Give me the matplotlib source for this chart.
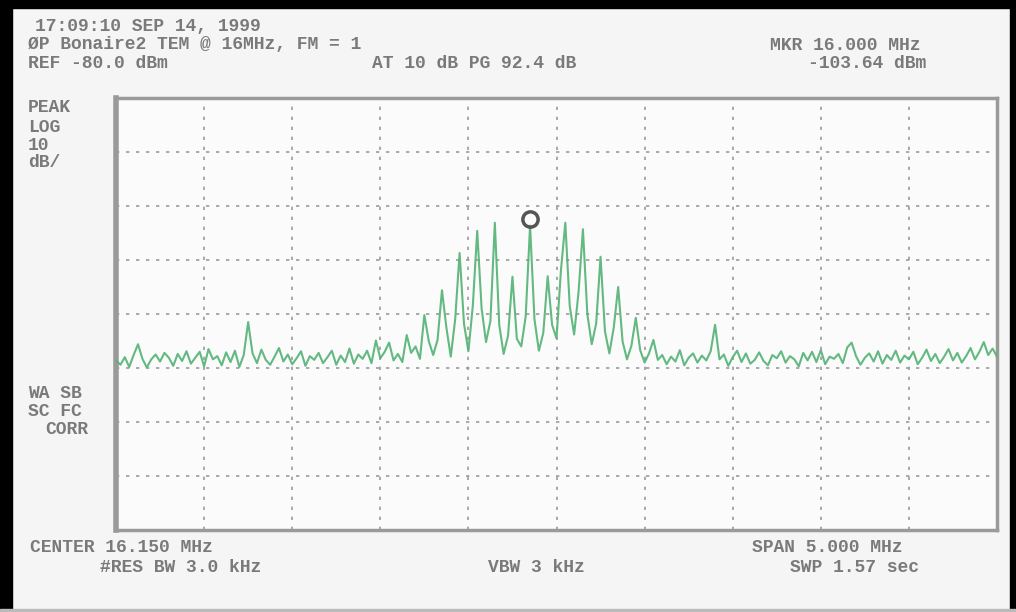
import numpy as np
import matplotlib.pyplot as plt
from matplotlib.patches import Rectangle
from matplotlib.transforms import offset_copy

CENTER_MHZ = 16.150
SPAN_MHZ = 5.0
REF_DBM = -80.0
DB_PER_DIV = 10
STEP_MHZ = 0.025

# trace level, one reading per 25 kHz from 13.65 to 18.65 MHz
trace_dbm = [
    -128.6, -129.4, -128.0, -129.8, -127.6, -125.6, -128.3, -129.9, -128.4, -127.5,
    -128.8, -127.2, -128.1, -129.6, -127.4, -128.7, -126.9, -129.2, -128.1, -127.0,
    -129.7, -126.5, -128.4, -127.8, -129.5, -127.1, -128.9, -126.8, -129.8, -127.6,
    -121.5,
    -127.3, -129.1, -126.6, -128.5, -129.4, -127.9, -126.3, -128.8, -127.5, -129.3,
    -128.2, -126.9, -129.6, -127.8, -128.5, -127.2, -129.1, -128.0, -126.8, -129.4,
    -127.7, -128.9, -126.4, -129.2, -127.5, -128.3, -126.8, -129.1, -124.9, -128.2,
    -127.0, -125.3, -128.6, -127.4, -128.9,
    -123.9, -127.2, -126.0, -128.3,
    -120.2, -125.0, -127.6, -124.8,
    -115.6, -122.5, -127.9, -121.0,
    -108.7, -121.8, -126.9, -118.5,
    -104.6, -119.0, -125.2, -121.3,
    -103.1, -122.0, -127.4, -124.0,
    -113.1, -124.6, -126.0, -120.5,
    -103.64, -121.0, -126.8, -123.5,
    -113.0, -122.0, -124.5, -112.0,
    -103.1, -118.5, -123.8, -116.0,
    -104.3, -120.0, -125.6, -121.8,
    -109.4, -123.2, -127.3, -122.5,
    -115.0, -125.1, -128.4, -125.9,
    -120.7, -126.7, -129.0, -127.3,
    -124.8, -128.5,
    -127.6, -129.3, -127.9, -128.8, -126.7, -129.5, -128.1, -127.3, -129.0, -127.7,
    -128.6, -126.9,
    -122.0,
    -128.4, -127.5, -129.6, -128.0, -126.8, -128.9, -127.3, -129.2, -128.5, -127.1,
    -128.7, -129.5, -127.6, -128.2, -126.9, -129.0, -127.8, -128.4, -129.7, -127.2,
    -128.6, -127.0, -128.9, -126.7, -129.3, -127.9, -128.3, -127.4, -129.1, -126.2,
    -125.3, -127.8, -129.4, -128.1, -127.3, -128.8, -126.9, -129.2, -127.6, -128.5,
    -126.8, -129.0, -127.7, -128.4, -127.0, -129.3, -128.1, -126.6, -128.7, -127.4,
    -129.1, -127.9, -126.5, -128.6, -127.2, -129.0, -127.8, -126.3, -128.4, -127.0,
    -125.2, -127.6, -126.4, -127.9,
]

MARKER_MHZ = 16.000
MARKER_DBM = -103.64

start = CENTER_MHZ - SPAN_MHZ / 2
stop = CENTER_MHZ + SPAN_MHZ / 2
freq = start + STEP_MHZ * np.arange(len(trace_dbm))

fig = plt.figure(figsize=(10.16, 6.12), dpi=100, facecolor="#f5f5f5")
ax = fig.add_axes([116 / 1016, 1 - 530 / 612, 881 / 1016, 432 / 612])
ax.set_facecolor("#fbfbfb")

ax.plot(freq, trace_dbm, color="#52b274", lw=1.5, alpha=0.9, zorder=3)
ax.plot([MARKER_MHZ], [MARKER_DBM], "o", ms=11, mfc="none", mec="#555555", mew=2.5,
        transform=offset_copy(ax.transData, fig=fig, y=7, units="dots"), zorder=4)

ax.set_xlim(start, stop)
ax.set_ylim(REF_DBM - 8 * DB_PER_DIV, REF_DBM)
ax.set_xticks(start + SPAN_MHZ / 10 * np.arange(11))
ax.set_yticks(REF_DBM - DB_PER_DIV * np.arange(9))
ax.tick_params(length=0, labelbottom=False, labelleft=False)
ax.grid(True, color="#9c9c9c", lw=1.2, linestyle=(0, (2, 4)))
for sp in ax.spines.values():
    sp.set_color("#9a9a9a")
    sp.set_linewidth(2.5)
ax.spines["left"].set_linewidth(4)

# scanner frame
fig.add_artist(Rectangle((0, 1 - 8 / 612), 1, 8 / 612, transform=fig.transFigure, color="black"))
fig.add_artist(Rectangle((0, 0), 12 / 1016, 1, transform=fig.transFigure, color="black"))
fig.add_artist(Rectangle((1 - 6 / 1016, 0), 6 / 1016, 1, transform=fig.transFigure, color="black"))
fig.add_artist(Rectangle((0, 0), 1, 3 / 612, transform=fig.transFigure, color="#bbbbbb"))

txt = dict(family="Liberation Mono", weight="bold", color="#7a7a7a", fontsize=13,
           va="center", ha="left", zorder=5)


def put(x, y, s):
    fig.text(x / 1016, 1 - y / 612, s, **txt)


put(35, 27, "17:09:10 SEP 14, 1999")
put(28, 45, "ØP Bonaire2 TEM @ 16MHz, FM = 1")
put(28, 63, "REF -80.0 dBm")
put(372, 63, "AT 10 dB PG 92.4 dB")
put(770, 45, "MKR 16.000 MHz")
put(808, 63, "-103.64 dBm")
put(28, 108, "PEAK")
put(28, 127, "LOG")
put(28, 145, "10")
put(28, 163, "dB/")
put(28, 393, "WA SB")
put(28, 411, "SC FC")
put(45, 429, "CORR")
put(30, 547, "CENTER 16.150 MHz")
put(100, 567, "#RES BW 3.0 kHz")
put(488, 567, "VBW 3 kHz")
put(752, 547, "SPAN 5.000 MHz")
put(790, 567, "SWP 1.57 sec")

fig.savefig("out.png", dpi=100, facecolor=fig.get_facecolor())
